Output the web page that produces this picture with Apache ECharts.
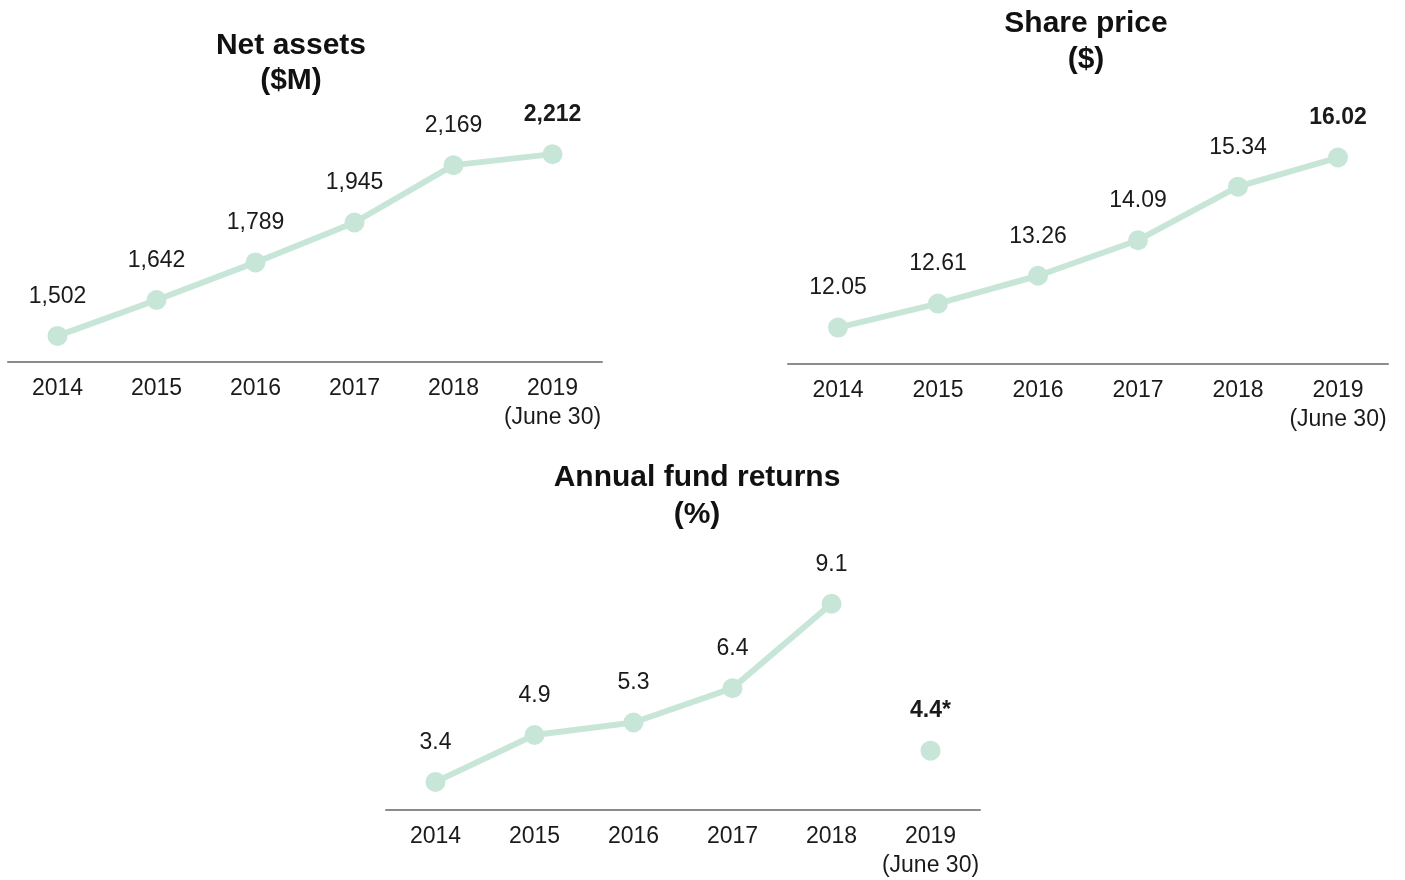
<!DOCTYPE html>
<html>
<head>
<meta charset="utf-8">
<script src="https://cdn.jsdelivr.net/npm/echarts@6/dist/echarts.min.js"></script>
<style>html,body{margin:0;padding:0;background:#fff;}#c{width:1405px;height:880px;}</style>
</head>
<body>
<div id="c"></div>
<script>
const years = ['2014', '2015', '2016', '2017', '2018', '2019\n(June 30)'];
const netAssets = [1502, 1642, 1789, 1945, 2169, 2212];
const sharePrice = [12.05, 12.61, 13.26, 14.09, 15.34, 16.02];
const fundReturns = [3.4, 4.9, 5.3, 6.4, 9.1];
const fundReturn2019 = 4.4;

const MINT = '#c8e6d8';
const FONT = "'Liberation Sans', Arial, sans-serif";
const TXT = '#1a1a1a';

function lastBold(arr) {
  return arr.map((v, i) => i === arr.length - 1
    ? { value: v, label: { fontWeight: 'bold' } }
    : v);
}

const chart = echarts.init(document.getElementById('c'), null, { renderer: 'canvas' });

function xAxis(idx, margin) {
  return {
    type: 'category', gridIndex: idx, data: years, boundaryGap: true,
    axisLine: { lineStyle: { color: '#8c8c8c', width: 2 } },
    axisTick: { show: false },
    axisLabel: { color: TXT, fontSize: 23, fontFamily: FONT, lineHeight: 29, margin: margin, interval: 0 }
  };
}
function yAxis(idx, min, max) {
  return { type: 'value', gridIndex: idx, min: min, max: max, show: false, splitLine: { show: false } };
}
const labelBase = { show: true, position: 'top', distance: 18, color: TXT, fontSize: 23, fontFamily: FONT };
const lineBase = {
  type: 'line', symbol: 'circle', symbolSize: 20, silent: true,
  lineStyle: { color: MINT, width: 6 }, itemStyle: { color: MINT, opacity: 1 }
};

chart.setOption({
  animation: false,
  title: [
    { text: 'Net assets\n($M)', left: 286, top: 23, textAlign: 'center',
      textStyle: { fontSize: 30, fontWeight: 'bold', color: '#111', fontFamily: FONT, lineHeight: 35 } },
    { text: 'Share price\n($)', left: 1081, top: 1, textAlign: 'center',
      textStyle: { fontSize: 30, fontWeight: 'bold', color: '#111', fontFamily: FONT, lineHeight: 36 } },
    { text: 'Annual fund returns\n(%)', left: 692, top: 454, textAlign: 'center',
      textStyle: { fontSize: 30, fontWeight: 'bold', color: '#111', fontFamily: FONT, lineHeight: 37 } }
  ],
  grid: [
    { left: 8, top: 106, width: 594, height: 256 },
    { left: 788, top: 107, width: 600, height: 257 },
    { left: 386, top: 560, width: 594, height: 257 }
  ],
  xAxis: [xAxis(0, 12), xAxis(1, 12), xAxis(2, 12)],
  yAxis: [yAxis(0, 1400, 2400), yAxis(1, 11.2, 17.2), yAxis(2, 2.5, 10.5)],
  series: [
    Object.assign({}, lineBase, {
      xAxisIndex: 0, yAxisIndex: 0, data: lastBold(netAssets),
      label: Object.assign({}, labelBase, { formatter: p => Number(p.value).toLocaleString('en-US') })
    }),
    Object.assign({}, lineBase, {
      xAxisIndex: 1, yAxisIndex: 1, data: lastBold(sharePrice),
      label: Object.assign({}, labelBase, { formatter: p => Number(p.value).toFixed(2) })
    }),
    Object.assign({}, lineBase, {
      xAxisIndex: 2, yAxisIndex: 2, data: fundReturns.concat(['-']),
      label: Object.assign({}, labelBase, { formatter: p => Number(p.value).toFixed(1) })
    }),
    {
      type: 'scatter', xAxisIndex: 2, yAxisIndex: 2, symbolSize: 20, silent: true,
      itemStyle: { color: MINT, opacity: 1 },
      data: ['-', '-', '-', '-', '-', fundReturn2019],
      label: Object.assign({}, labelBase, { fontWeight: 'bold', formatter: p => Number(p.value).toFixed(1) + '*' })
    }
  ]
});
</script>
</body>
</html>
